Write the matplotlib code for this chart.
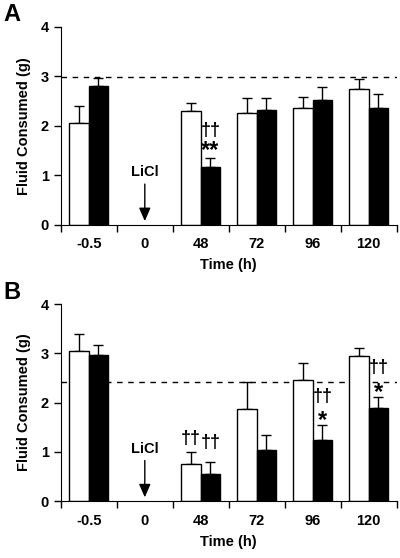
import numpy as np
import matplotlib.pyplot as plt

plt.rcParams['font.family'] = ['Liberation Sans', 'DejaVu Sans']
plt.rcParams['font.weight'] = 'bold'

# categories (time, h)
times = ['-0.5', '0', '48', '72', '96', '120']

# panel A
a_white = [2.05, np.nan, 2.29, 2.25, 2.37, 2.74]
a_white_err = [0.36, np.nan, 0.18, 0.32, 0.22, 0.20]
a_black = [2.80, np.nan, 1.16, 2.31, 2.52, 2.37]
a_black_err = [0.17, np.nan, 0.20, 0.26, 0.27, 0.27]
a_ref = 2.98

# panel B
b_white = [3.05, np.nan, 0.76, 1.86, 2.46, 2.95]
b_white_err = [0.35, np.nan, 0.24, 0.56, 0.34, 0.16]
b_black = [2.96, np.nan, 0.56, 1.04, 1.25, 1.90]
b_black_err = [0.21, np.nan, 0.23, 0.30, 0.30, 0.22]
b_ref = 2.42

# significance marks: (category index, bar, text, y of mark centre)
a_marks = [(2, 'b', '\u2020\u2020', 1.91), (2, 'b', '**', 1.58)]
b_marks = [(2, 'w', '\u2020\u2020', 1.28), (2, 'b', '\u2020\u2020', 1.18),
           (4, 'b', '\u2020\u2020', 2.12), (4, 'b', '*', 1.71),
           (5, 'b', '\u2020\u2020', 2.72), (5, 'b', '*', 2.29)]

w = 0.345
x = np.arange(len(times)) + 0.5


def panel(ax, white, white_err, black, black_err, ref, marks, letter):
    zeros = np.zeros(len(times))
    ax.bar(x - w/2, white, w, color='white', edgecolor='black', lw=1, zorder=2)
    ax.bar(x + w/2, black, w, color='black', edgecolor='black', lw=1, zorder=2)
    ax.errorbar(x - w/2, white, yerr=[zeros, white_err], fmt='none',
                ecolor='black', elinewidth=1, capsize=3.5, capthick=1, zorder=1)
    ax.errorbar(x + w/2, black, yerr=[zeros, black_err], fmt='none',
                ecolor='black', elinewidth=1, capsize=3.5, capthick=1, zorder=1)
    ax.axhline(ref, color='black', lw=1, ls=(0, (4, 4)), zorder=0)

    for i, bar, txt, y in marks:
        xx = x[i] - w/2 if bar == 'w' else x[i] + w/2
        if '*' in txt:
            # asterisk glyph sits high above the baseline
            ax.text(xx, y - 0.21, txt, ha='center', va='baseline', fontsize=17,
                    fontweight='bold')
        else:
            ax.text(xx, y, txt, ha='center', va='center', fontsize=13,
                    fontweight='bold')

    # LiCl injection arrow
    ax.text(x[1], 1.06, 'LiCl', ha='center', va='center', fontsize=10.5, fontweight='bold')
    ax.annotate('', xy=(x[1], 0.02), xytext=(x[1], 0.88),
                arrowprops=dict(arrowstyle='-|>,head_width=0.35,head_length=0.8',
                                color='black', lw=1))

    ax.set_xlim(0, 6)
    ax.set_ylim(0, 4)
    ax.spines['top'].set_visible(False)
    ax.spines['right'].set_visible(False)
    ax.spines['left'].set_bounds(0, 4)
    ax.set_yticks([0, 1, 2, 3, 4])
    ax.set_xticks(np.arange(7))
    ax.set_xticklabels([])
    ax.set_xticks(x, minor=True)
    ax.set_xticklabels(times, minor=True)
    ax.tick_params(axis='x', which='minor', length=0, pad=9, labelsize=10.5)
    ax.tick_params(axis='both', which='major', direction='out', length=5,
                   width=1, labelsize=10.5)
    for lab in ax.get_yticklabels() + ax.get_xticklabels(minor=True):
        lab.set_fontweight('bold')
    ax.set_ylabel('Fluid Consumed (g)', fontsize=10.5, fontweight='bold', labelpad=7)
    ax.set_xlabel('Time (h)', fontsize=10.5, fontweight='bold', labelpad=5)
    ax.text(-0.145, 1.06, letter, transform=ax.transAxes, fontsize=17,
            fontweight='bold', va='center', ha='center')


fig = plt.figure(figsize=(4, 5.58), dpi=100)
ax1 = fig.add_axes([0.152, 0.597, 0.84, 0.355])
ax2 = fig.add_axes([0.152, 0.102, 0.84, 0.353])
panel(ax1, a_white, a_white_err, a_black, a_black_err, a_ref, a_marks, 'A')
panel(ax2, b_white, b_white_err, b_black, b_black_err, b_ref, b_marks, 'B')

fig.savefig('out.png', dpi=100)
